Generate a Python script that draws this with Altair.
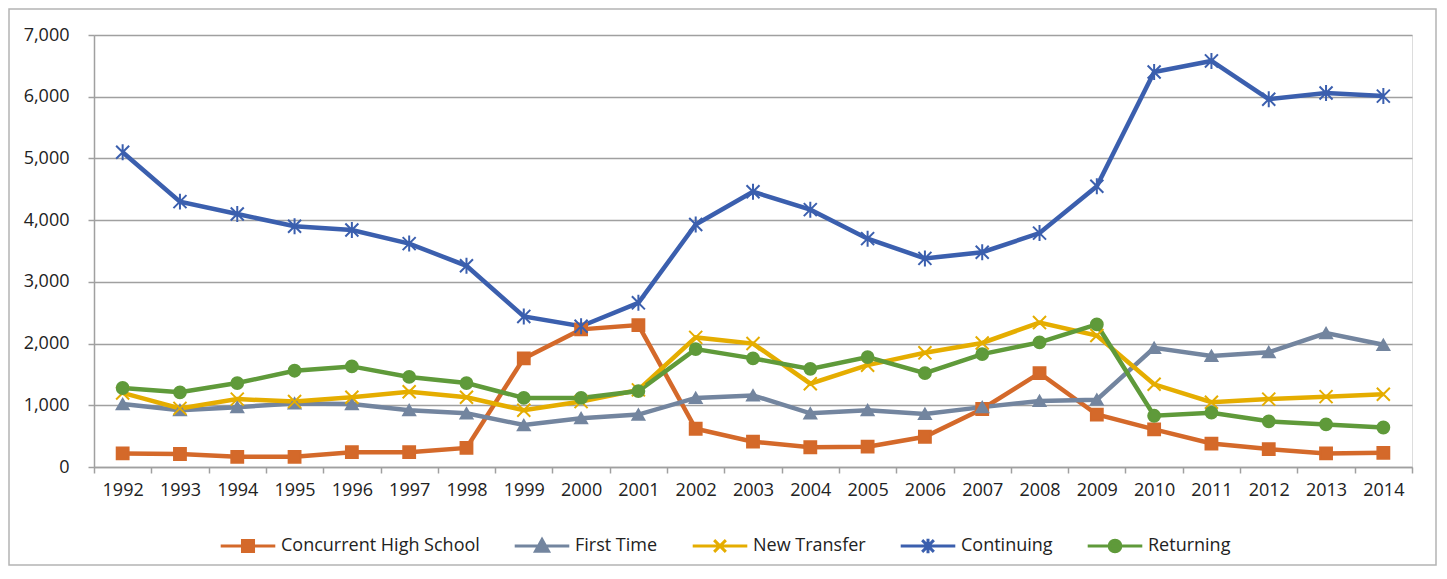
import altair as alt
import pandas as pd

years = [str(y) for y in range(1992, 2015)]
series_names = ["Concurrent High School", "First Time", "New Transfer", "Continuing", "Returning"]

concurrent = [220, 210, 165, 165, 240, 240, 310, 1760, 2230, 2300, 620, 410, 320, 330, 490, 940, 1520, 850, 610, 380, 290, 220, 230]
first_time = [1020, 920, 970, 1030, 1020, 920, 870, 680, 790, 850, 1120, 1160, 870, 920, 860, 970, 1070, 1090, 1930, 1800, 1860, 2170, 1980]
new_transfer = [1200, 950, 1100, 1060, 1130, 1220, 1130, 920, 1060, 1250, 2100, 2000, 1350, 1650, 1850, 2010, 2340, 2130, 1340, 1050, 1100, 1140, 1180]
continuing = [5100, 4300, 4100, 3900, 3840, 3620, 3260, 2440, 2280, 2660, 3930, 4460, 4170, 3700, 3380, 3480, 3790, 4550, 6400, 6580, 5960, 6060, 6010]
returning = [1280, 1210, 1360, 1560, 1630, 1460, 1360, 1120, 1120, 1230, 1910, 1760, 1590, 1780, 1520, 1830, 2020, 2310, 830, 880, 740, 690, 640]

y_ticks = [0, 1000, 2000, 3000, 4000, 5000, 6000, 7000]
colors = ["#D4692A", "#73859F", "#E5AD00", "#3B5FAE", "#5F9A3A"]

plot_shapes = [
    "square",
    "triangle-up",
    "M-1.1,-1.1L1.1,1.1M-1.1,1.1L1.1,-1.1",
    "M-1.1,-1.1L1.1,1.1M-1.1,1.1L1.1,-1.1M0,-1.35L0,1.35",
    "circle",
]
line_seg = "M-4.2,0L4.2,0"
legend_shapes = [
    line_seg + "M-0.85,-0.85L0.85,-0.85L0.85,0.85L-0.85,0.85Z",
    line_seg + "M0,-1L1,0.8L-1,0.8Z",
    line_seg + "M-0.9,-0.9L0.9,0.9M-0.9,0.9L0.9,-0.9",
    line_seg + "M-0.9,-0.9L0.9,0.9M-0.9,0.9L0.9,-0.9M0,-1.1L0,1.1",
    line_seg + "M0.9,0A0.9,0.9 0 1,1 -0.9,0A0.9,0.9 0 1,1 0.9,0Z",
]

all_values = [concurrent, first_time, new_transfer, continuing, returning]
rows = []
for name, vals in zip(series_names, all_values):
    for yr, v in zip(years, vals):
        rows.append({"year": yr, "series": name, "value": v})
df = pd.DataFrame(rows)

W, H = 1318, 432
FONT = "Open Sans"

x_enc = alt.X(
    "year:O",
    sort=years,
    scale=alt.Scale(type="band", paddingInner=0, paddingOuter=0),
    axis=alt.Axis(
        title=None, labelAngle=0, tickBand="extent", tickSize=6, tickColor="#A0A0A0",
        tickWidth=1.5, domainColor="#A0A0A0", domainWidth=1.5, grid=False,
        labelFont=FONT, labelFontSize=18, labelColor="#222222", labelPadding=8,
    ),
)
y_enc = alt.Y(
    "value:Q",
    scale=alt.Scale(domain=[0, 7000], nice=False, zero=True),
    axis=alt.Axis(
        title=None, values=y_ticks, format=",d", grid=True, gridColor="#A0A0A0",
        gridWidth=1.5, tickSize=6, tickColor="#A0A0A0", tickWidth=1.5,
        domainColor="#A0A0A0", domainWidth=1.5, labelFont=FONT, labelFontSize=18,
        labelColor="#222222", labelPadding=19,
    ),
)


def sc(rng):
    return alt.Scale(domain=series_names, range=rng)


lines = alt.Chart(df).mark_line(strokeWidth=4.5).encode(
    x=x_enc, y=y_enc,
    color=alt.Color("series:N", scale=sc(colors), legend=None),
    order=alt.Order("year:O"),
)

points = alt.Chart(df).mark_point(filled=True, opacity=1, strokeWidth=2, size=140).encode(
    x=x_enc, y=y_enc,
    fill=alt.Fill("series:N", scale=sc(colors), legend=None),
    stroke=alt.Stroke("series:N", scale=sc(colors), legend=None),
    shape=alt.Shape("series:N", scale=sc(plot_shapes), legend=None),
)

leg = alt.Legend(
    title=None, orient="none", legendX=145, legendY=502, direction="horizontal",
    symbolSize=169, symbolStrokeWidth=3, labelFont=FONT, labelFontSize=18,
    labelColor="#222222", labelOffset=24, columnPadding=28, labelLimit=0, gridAlign="none",
)
legend_layer = alt.Chart(df).transform_filter("datum.value < 0").mark_point(
    filled=True, opacity=1, strokeWidth=3
).encode(
    x=x_enc, y=y_enc,
    fill=alt.Fill("series:N", scale=sc(colors), legend=leg),
    stroke=alt.Stroke("series:N", scale=sc(colors), legend=leg),
    shape=alt.Shape("series:N", scale=sc(legend_shapes), legend=leg),
)

border = alt.Chart(pd.DataFrame({"a": [0]})).mark_rect(
    fill="transparent", stroke="#B4B4B4", strokeWidth=1.5
).encode(
    x=alt.value(-85), x2=alt.value(W + 24), y=alt.value(-26), y2=alt.value(H + 98),
)

chart = alt.layer(border, lines, points, legend_layer).resolve_scale(
    color="independent", fill="independent", stroke="independent", shape="independent"
).properties(
    width=W, height=H,
    padding={"left": 86, "top": 27, "right": 25, "bottom": 100},
    autosize=alt.AutoSizeParams(type="none"),
).configure_view(stroke=None).configure(background="white")

chart.save("out.html", embed_options={"renderer": "svg", "actions": False})
